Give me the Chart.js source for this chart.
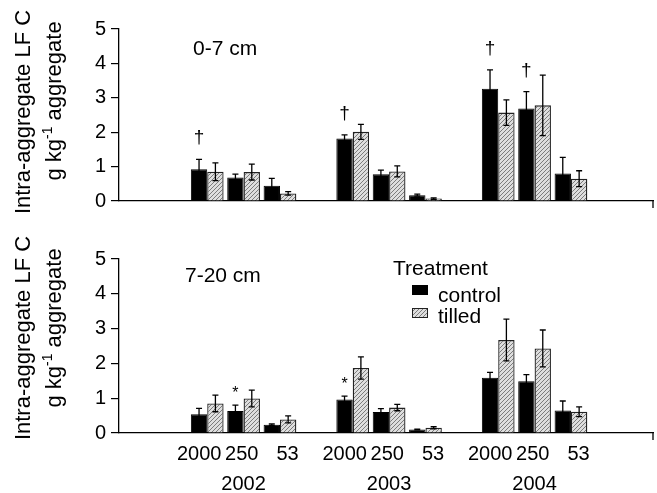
<!DOCTYPE html>
<html>
<head>
<meta charset="utf-8">
<script src="https://cdn.jsdelivr.net/npm/chart.js@4.4.1/dist/chart.umd.min.js"></script>
<style>
  html, body { margin: 0; padding: 0; background: #fff; }
  #wrap { position: relative; width: 657px; height: 493px; }
  #wrap canvas { position: absolute; left: 0; top: 0; }
</style>
</head>
<body>
<div id="wrap">
  <canvas id="topChart" width="657" height="493"></canvas>
  <canvas id="bottomChart" width="657" height="493"></canvas>
</div>
<script>
// categories
const years = ['2002', '2003', '2004'];
const sizes = ['2000', '250', '53'];
const yTicks = [0, 1, 2, 3, 4, 5];

// 0-7 cm, order: 2002 (2000, 250, 53), 2003 (...), 2004 (...)
const topControl    = [0.92, 0.68, 0.44, 1.82, 0.78, 0.17, 3.26, 2.69, 0.80];
const topControlErr = [0.29, 0.10, 0.22, 0.10, 0.12, 0.03, 0.55, 0.49, 0.47];
const topTilled     = [0.85, 0.84, 0.22, 2.01, 0.86, 0.07, 2.57, 2.78, 0.65];
const topTilledErr  = [0.26, 0.23, 0.05, 0.22, 0.16, 0.02, 0.37, 0.88, 0.23];
const topMarks      = ['†', '', '', '†', '', '', '†', '†', ''];

// 7-20 cm
const botControl    = [0.54, 0.63, 0.24, 0.96, 0.60, 0.10, 1.59, 1.49, 0.65];
const botControlErr = [0.17, 0.17, 0.02, 0.10, 0.10, 0.01, 0.15, 0.19, 0.27];
const botTilled     = [0.85, 0.99, 0.39, 1.87, 0.73, 0.15, 2.67, 2.43, 0.61];
const botTilledErr  = [0.24, 0.24, 0.10, 0.32, 0.09, 0.03, 0.60, 0.53, 0.14];
const botMarks      = ['', '*', '', '*', '', '', '', '', ''];

const FONT = '"Liberation Sans", Arial, Helvetica, sans-serif';
Chart.defaults.font.family = FONT;
Chart.defaults.color = '#000';

// x position of each bar group: one empty slot between years
const positions = [];
years.forEach((yr, yi) => sizes.forEach((s, si) => positions.push(yi * 4 + si)));

function toPoints(values) {
  return values.map((v, i) => ({ x: positions[i], y: v }));
}

// light grey hatch fill for "tilled"
function makeHatch(ctx) {
  const c = document.createElement('canvas');
  c.width = 4; c.height = 4;
  const g = c.getContext('2d');
  g.fillStyle = '#dedede';
  g.fillRect(0, 0, 4, 4);
  g.fillStyle = '#7c7c7c';
  for (let i = 0; i < 4; i++) g.fillRect(i, 3 - i, 1, 1);
  return ctx.createPattern(c, 'repeat');
}

function drawText(ctx, text, x, y, size, align) {
  ctx.font = size + 'px ' + FONT;
  ctx.textAlign = align || 'left';
  ctx.textBaseline = 'alphabetic';
  ctx.fillText(text, x, y);
}

// error bars, significance marks and the hand-placed texts of each panel
const panelPlugin = {
  id: 'panel',
  afterDatasetsDraw(chart, args, opts) {
    const ctx = chart.ctx;
    const xs = chart.scales.x, ys = chart.scales.y;
    const area = chart.chartArea;
    ctx.save();
    ctx.fillStyle = '#000';
    ctx.strokeStyle = '#000';
    ctx.lineWidth = 1.3;

    opts.errors.forEach((errs, di) => {
      const meta = chart.getDatasetMeta(di);
      const data = chart.data.datasets[di].data;
      meta.data.forEach((bar, i) => {
        const v = data[i].y;
        const yt = ys.getPixelForValue(v + errs[i]);
        const yb = ys.getPixelForValue(Math.max(v - errs[i], 0));
        ctx.beginPath();
        ctx.moveTo(bar.x, yb); ctx.lineTo(bar.x, yt);
        ctx.moveTo(bar.x - 3, yt); ctx.lineTo(bar.x + 3, yt);
        ctx.moveTo(bar.x - 3, yb); ctx.lineTo(bar.x + 3, yb);
        ctx.stroke();
        if (di === 0 && opts.marks[i]) {
          const m = opts.marks[i];
          if (m === '*') drawText(ctx, m, bar.x, yt - 7, 16, 'center');
          else drawText(ctx, m, bar.x, yt - 16, 19, 'center');
        }
      });
    });

    // small tick at the right end of the x axis
    ctx.beginPath();
    ctx.moveTo(area.right, area.bottom);
    ctx.lineTo(area.right, area.bottom + 7);
    ctx.stroke();

    // depth label
    drawText(ctx, opts.depth, opts.depthX, opts.depthY, 21);

    // y axis title, two rotated lines
    ctx.save();
    ctx.translate(30, opts.titleY1);
    ctx.rotate(-Math.PI / 2);
    drawText(ctx, 'Intra-aggregate LF C', 0, 0, 22, 'center');
    ctx.restore();

    ctx.save();
    ctx.translate(61, opts.titleY2);
    ctx.rotate(-Math.PI / 2);
    ctx.font = '22px ' + FONT;
    const wa = ctx.measureText('g kg').width;
    const wb = ctx.measureText(' aggregate').width;
    ctx.font = '14px ' + FONT;
    const ws = ctx.measureText('-1').width;
    let sx = -(wa + ws + wb) / 2;
    drawText(ctx, 'g kg', sx, 0, 22); sx += wa;
    drawText(ctx, '-1', sx, -9, 14); sx += ws;
    drawText(ctx, ' aggregate', sx, 0, 22);
    ctx.restore();

    if (opts.legend) {
      drawText(ctx, 'Treatment', 393, 275, 21);
      ctx.fillStyle = '#000';
      ctx.fillRect(412, 285, 16, 10);
      ctx.fillStyle = chart.data.datasets[1].backgroundColor;
      ctx.fillRect(412, 308, 16, 10);
      ctx.lineWidth = 1;
      ctx.strokeStyle = '#222';
      ctx.strokeRect(412.5, 308.5, 15, 9);
      ctx.fillStyle = '#000';
      drawText(ctx, 'control', 438, 302, 21);
      drawText(ctx, 'tilled', 438, 323, 21);
    }

    if (opts.years) {
      years.forEach((yr, yi) => {
        drawText(ctx, yr, xs.getPixelForValue(yi * 4 + 1), 490, 20, 'center');
      });
    }
    ctx.restore();
  }
};

function makeChart(id, control, tilled, controlErr, tilledErr, marks, cfg) {
  const canvas = document.getElementById(id);
  const ctx = canvas.getContext('2d');
  // size labels sit a little apart so they do not run together
  const labelShift = [-0.22, -0.05, 0.21];
  return new Chart(ctx, {
    type: 'bar',
    data: {
      datasets: [
        {
          label: 'control',
          data: toPoints(control),
          backgroundColor: '#000',
          borderColor: '#000',
          borderWidth: 1
        },
        {
          label: 'tilled',
          data: toPoints(tilled),
          backgroundColor: makeHatch(ctx),
          borderColor: '#222',
          borderWidth: 1.3
        }
      ]
    },
    options: {
      responsive: false,
      animation: false,
      devicePixelRatio: 1,
      categoryPercentage: 0.9,
      barPercentage: 1.0,
      layout: { padding: cfg.padding },
      plugins: {
        legend: { display: false },
        tooltip: { enabled: false },
        panel: {
          errors: [controlErr, tilledErr],
          marks: marks,
          depth: cfg.depth,
          depthX: cfg.depthX,
          depthY: cfg.depthY,
          titleY1: cfg.titleY1,
          titleY2: cfg.titleY2,
          legend: cfg.legend,
          years: cfg.years
        }
      },
      scales: {
        x: {
          type: 'linear',
          min: -1.61,
          max: 11.44,
          grid: { display: true, drawOnChartArea: false, drawTicks: false },
          border: { display: true, color: '#000', width: 1.3 },
          afterBuildTicks: (scale) => {
            scale.ticks = positions.map((v, i) => ({ value: v + labelShift[i % 3] }));
          },
          ticks: {
            display: cfg.years,
            padding: 9,
            maxRotation: 0,
            autoSkip: false,
            font: { size: 20 },
            color: '#000',
            callback: (v, i) => sizes[i % 3]
          },
          afterFit: (scale) => { scale.height = cfg.xHeight; }
        },
        y: {
          min: 0,
          max: 5,
          afterBuildTicks: (scale) => {
            scale.ticks = yTicks.map(v => ({ value: v }));
          },
          grid: { drawOnChartArea: false, drawTicks: true, tickLength: 8, color: '#000', lineWidth: 1.2 },
          border: { display: true, color: '#000', width: 1.3 },
          ticks: { padding: 5, font: { size: 20 }, color: '#000' },
          afterFit: (scale) => { scale.width = 119; }
        }
      }
    },
    plugins: [panelPlugin]
  });
}

makeChart('topChart', topControl, topTilled, topControlErr, topTilledErr, topMarks, {
  padding: { left: 0, right: 4, top: 29, bottom: 292 },
  xHeight: 0,
  depth: '0-7 cm', depthX: 193, depthY: 55,
  titleY1: 112, titleY2: 101,
  legend: false, years: false
});

makeChart('bottomChart', botControl, botTilled, botControlErr, botTilledErr, botMarks, {
  padding: { left: 0, right: 4, top: 259, bottom: 0 },
  xHeight: 60,
  depth: '7-20 cm', depthX: 185, depthY: 282,
  titleY1: 338, titleY2: 328,
  legend: true, years: true
});
</script>
</body>
</html>
